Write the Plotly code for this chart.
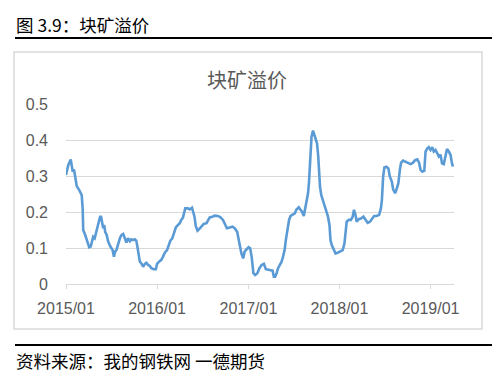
import plotly.graph_objects as go

dates = [
    "2015-01-01", "2015-01-10", "2015-01-20", "2015-01-25", "2015-01-28", "2015-02-02", "2015-02-06",
    "2015-02-13", "2015-02-23", "2015-03-05", "2015-03-09", "2015-03-11", "2015-03-19", "2015-03-27",
    "2015-04-04", "2015-04-10", "2015-04-15", "2015-04-20", "2015-04-26", "2015-05-04", "2015-05-10",
    "2015-05-17", "2015-05-21", "2015-05-26", "2015-05-30", "2015-06-03", "2015-06-07", "2015-06-13",
    "2015-06-19", "2015-06-28", "2015-07-07", "2015-07-12", "2015-07-17", "2015-07-22", "2015-07-29",
    "2015-08-05", "2015-08-11", "2015-08-18", "2015-08-25", "2015-08-31", "2015-09-07", "2015-09-14",
    "2015-09-20", "2015-09-27", "2015-10-04", "2015-10-10", "2015-10-14", "2015-10-18", "2015-10-24",
    "2015-10-30", "2015-11-06", "2015-11-13", "2015-11-19", "2015-11-26", "2015-12-03", "2015-12-09",
    "2015-12-19", "2015-12-27", "2016-01-01", "2016-01-09", "2016-01-18", "2016-01-25", "2016-02-01",
    "2016-02-10", "2016-02-18", "2016-02-23", "2016-03-02", "2016-03-08", "2016-03-16", "2016-03-25",
    "2016-04-01", "2016-04-07", "2016-04-14", "2016-04-18", "2016-04-23", "2016-05-04", "2016-05-11",
    "2016-05-20", "2016-05-24", "2016-05-30", "2016-06-04", "2016-06-11", "2016-06-17", "2016-06-27",
    "2016-07-06", "2016-07-17", "2016-07-23", "2016-07-30", "2016-08-10", "2016-08-19", "2016-09-01",
    "2016-09-11", "2016-09-21", "2016-09-28", "2016-10-07", "2016-10-18", "2016-10-29", "2016-11-07",
    "2016-11-17", "2016-11-22", "2016-11-27", "2016-12-04", "2016-12-11", "2016-12-17", "2016-12-24",
    "2017-01-02", "2017-01-08", "2017-01-14", "2017-01-21", "2017-01-28", "2017-02-06", "2017-02-14",
    "2017-02-23", "2017-03-04", "2017-03-12", "2017-03-22", "2017-03-31", "2017-04-08", "2017-04-13",
    "2017-04-18", "2017-04-24", "2017-04-30", "2017-05-07", "2017-05-14", "2017-05-20", "2017-05-26",
    "2017-05-31", "2017-06-07", "2017-06-13", "2017-06-19", "2017-06-27", "2017-07-06", "2017-07-12",
    "2017-07-22", "2017-07-28", "2017-08-04", "2017-08-11", "2017-08-16", "2017-08-21", "2017-08-28",
    "2017-09-01", "2017-09-05", "2017-09-08", "2017-09-11", "2017-09-17", "2017-09-22", "2017-09-27",
    "2017-10-03", "2017-10-08", "2017-10-11", "2017-10-15", "2017-10-20", "2017-10-27", "2017-11-02",
    "2017-11-09", "2017-11-16", "2017-11-22", "2017-11-26", "2017-12-01", "2017-12-08", "2017-12-16",
    "2017-12-25", "2018-01-04", "2018-01-14", "2018-01-21", "2018-01-25", "2018-01-30", "2018-02-07",
    "2018-02-16", "2018-02-23", "2018-02-28", "2018-03-06", "2018-03-11", "2018-03-19", "2018-03-28",
    "2018-04-07", "2018-04-15", "2018-04-24", "2018-05-03", "2018-05-11", "2018-05-20", "2018-05-30",
    "2018-06-09", "2018-06-16", "2018-06-20", "2018-06-25", "2018-06-30", "2018-07-08", "2018-07-16",
    "2018-07-22", "2018-07-30", "2018-08-04", "2018-08-12", "2018-08-19", "2018-08-25", "2018-08-31",
    "2018-09-05", "2018-09-13", "2018-09-23", "2018-10-04", "2018-10-13", "2018-10-23", "2018-10-31",
    "2018-11-09", "2018-11-16", "2018-11-22", "2018-11-29", "2018-12-07", "2018-12-12", "2018-12-19",
    "2018-12-25", "2019-01-01", "2019-01-08", "2019-01-14", "2019-01-21", "2019-01-28", "2019-02-03",
    "2019-02-10", "2019-02-16", "2019-02-23", "2019-03-02", "2019-03-08", "2019-03-15", "2019-03-22",
    "2019-03-28", "2019-04-01",
]

premium = [
    0.303, 0.330, 0.346, 0.330, 0.312, 0.318, 0.298,
    0.272, 0.261, 0.247, 0.206, 0.150, 0.136, 0.118,
    0.102, 0.104, 0.122, 0.131, 0.127, 0.150, 0.169,
    0.185, 0.189, 0.169, 0.155, 0.164, 0.145, 0.136,
    0.118, 0.104, 0.094, 0.076, 0.090, 0.094, 0.113,
    0.127, 0.136, 0.139, 0.127, 0.115, 0.127, 0.119,
    0.124, 0.122, 0.124, 0.120, 0.104, 0.081, 0.062,
    0.057, 0.048, 0.056, 0.059, 0.053, 0.050, 0.044,
    0.041, 0.041, 0.056, 0.062, 0.067, 0.076, 0.087,
    0.094, 0.108, 0.120, 0.127, 0.143, 0.157, 0.164,
    0.169, 0.178, 0.185, 0.196, 0.210, 0.210, 0.207,
    0.212, 0.200, 0.187, 0.161, 0.148, 0.152, 0.161,
    0.167, 0.169, 0.178, 0.185, 0.187, 0.190, 0.189,
    0.185, 0.178, 0.169, 0.155, 0.157, 0.159, 0.155,
    0.145, 0.127, 0.104, 0.085, 0.071, 0.090, 0.096,
    0.102, 0.099, 0.076, 0.030, 0.025, 0.030, 0.044,
    0.053, 0.056, 0.041, 0.039, 0.039, 0.037, 0.020,
    0.020, 0.030, 0.044, 0.053, 0.062, 0.076, 0.094,
    0.122, 0.150, 0.178, 0.189, 0.192, 0.196, 0.206,
    0.213, 0.207, 0.201, 0.189, 0.206, 0.219, 0.252,
    0.284, 0.335, 0.381, 0.409, 0.426, 0.414, 0.398,
    0.391, 0.354, 0.317, 0.270, 0.247, 0.233, 0.219,
    0.201, 0.187, 0.164, 0.122, 0.108, 0.099, 0.085,
    0.087, 0.090, 0.094, 0.113, 0.145, 0.173, 0.178,
    0.178, 0.187, 0.206, 0.192, 0.173, 0.180, 0.182,
    0.187, 0.180, 0.170, 0.173, 0.182, 0.189, 0.189,
    0.192, 0.210, 0.233, 0.298, 0.324, 0.326, 0.321,
    0.298, 0.284, 0.263, 0.252, 0.266, 0.280, 0.317,
    0.337, 0.343, 0.340, 0.335, 0.333, 0.337, 0.344,
    0.346, 0.337, 0.317, 0.312, 0.315, 0.368, 0.377,
    0.380, 0.372, 0.380, 0.368, 0.372, 0.363, 0.354,
    0.359, 0.335, 0.333, 0.359, 0.375, 0.368, 0.359,
    0.335, 0.326,
]

header_text = "图 3.9：块矿溢价"
chart_title = "块矿溢价"
source_text = "资料来源：我的钢铁网 一德期货"

# the page body adds an 8px margin, so the figure is laid out 8px up/left
OFF = 8
W, H = 500 - OFF, 380 - OFF
PLOT_L, PLOT_R, PLOT_T, PLOT_B = 66, 454, 104, 284  # target page pixels
L = PLOT_L - OFF
R = W - (PLOT_R - OFF)
T = PLOT_T - OFF
B = H - (PLOT_B - OFF)
PW, PH = PLOT_R - PLOT_L, PLOT_B - PLOT_T


def px(x):
    return (x - PLOT_L) / PW


def py(y):
    return (PLOT_B - y) / PH


CJK = "Noto Sans CJK SC"
NUM = "Liberation Sans, Arial, sans-serif"

fig = go.Figure()
fig.add_trace(go.Scatter(
    x=dates, y=premium, mode="lines",
    line=dict(color="#5b9bd5", width=2.6),
    hoverinfo="skip", showlegend=False,
))

fig.update_layout(
    width=W, height=H,
    margin=dict(l=L, r=R, t=T, b=B, pad=0),
    paper_bgcolor="white", plot_bgcolor="white",
    showlegend=False,
    xaxis=dict(
        type="date",
        range=["2015-01-01", "2019-04-05"],
        tick0="2015-01-01", dtick="M12", tickformat="%Y/%m",
        showgrid=False, zeroline=False,
        showline=True, linecolor="#d9d9d9", linewidth=1.3,
        ticks="outside", ticklen=4, tickcolor="#d9d9d9", tickwidth=1.3,
        ticklabelstandoff=6,
        tickfont=dict(family=NUM, size=16, color="#595959"),
        fixedrange=True,
    ),
    yaxis=dict(
        range=[0, 0.5], dtick=0.1, tick0=0,
        showgrid=True, gridcolor="#d9d9d9", gridwidth=1.3,
        zeroline=False, showline=False, ticks="",
        ticklabelstandoff=17,
        tickfont=dict(family=NUM, size=16, color="#595959"),
        fixedrange=True,
    ),
    shapes=[
        dict(type="rect", xref="paper", yref="paper",
             x0=px(14), x1=px(482), y0=py(329), y1=py(52),
             line=dict(color="#d9d9d9", width=1.5), fillcolor="rgba(0,0,0,0)", layer="below"),
        dict(type="line", xref="paper", yref="paper",
             x0=px(15), x1=px(492), y0=py(38), y1=py(38),
             line=dict(color="black", width=2)),
        dict(type="line", xref="paper", yref="paper",
             x0=px(15), x1=px(492), y0=py(345), y1=py(345),
             line=dict(color="black", width=2)),
    ],
    annotations=[
        dict(text=header_text, xref="paper", yref="paper", x=px(14), y=py(24),
             xanchor="left", yanchor="middle", showarrow=False,
             font=dict(family=CJK, size=17.5, color="black")),
        dict(text=chart_title, xref="paper", yref="paper", x=px(247), y=py(79),
             xanchor="center", yanchor="middle", showarrow=False,
             font=dict(family=CJK, size=20, color="#595959")),
        dict(text=source_text, xref="paper", yref="paper", x=px(14), y=py(360),
             xanchor="left", yanchor="middle", showarrow=False,
             font=dict(family=CJK, size=17.5, color="black")),
    ],
)

fig.write_html("out.html", config={"displayModeBar": False})
